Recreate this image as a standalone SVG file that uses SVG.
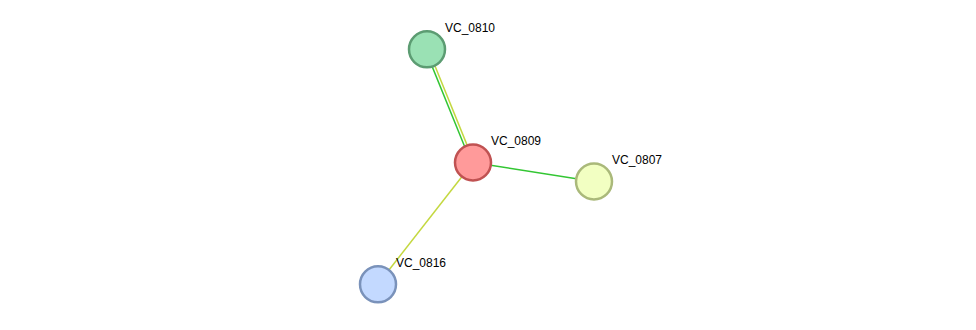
<svg xmlns="http://www.w3.org/2000/svg" width="976" height="330" viewBox="0 0 976 330">
<style>
.lbl{font-family:"Liberation Sans",Arial,sans-serif;font-size:12px;fill:#000}
.node circle{stroke-width:2.5}
.e{fill:none;stroke-width:1.5}
.g{stroke:#33c633}
.y{stroke:#c4d840}
</style>
<rect width="976" height="330" fill="#fff"/>
<g id="connectors">
<line class="e g" x1="425.4" y1="49.9" x2="471.4" y2="163.2"/>
<line class="e y" x1="428" y1="48.7" x2="474" y2="162.1"/>
<line class="e g" x1="473" y1="162.5" x2="594" y2="181.5"/>
<line class="e y" x1="473" y1="162.5" x2="378" y2="284"/>
</g>
<g id="VC_0810" class="node"><circle cx="427" cy="49.3" r="18" fill="#9ae1b4" stroke="#5c9c72"/><text class="lbl" x="445" y="32">VC_0810</text></g>
<g id="VC_0809" class="node"><circle cx="473" cy="162.5" r="18" fill="#ff9a9a" stroke="#c05252"/><text class="lbl" x="491" y="145">VC_0809</text></g>
<g id="VC_0807" class="node"><circle cx="594" cy="181.5" r="18" fill="#f2ffc2" stroke="#aab97a"/><text class="lbl" x="612" y="164">VC_0807</text></g>
<g id="VC_0816" class="node"><circle cx="378" cy="284.3" r="18" fill="#c3d9ff" stroke="#7a92ba"/><text class="lbl" x="396" y="267">VC_0816</text></g>
</svg>
